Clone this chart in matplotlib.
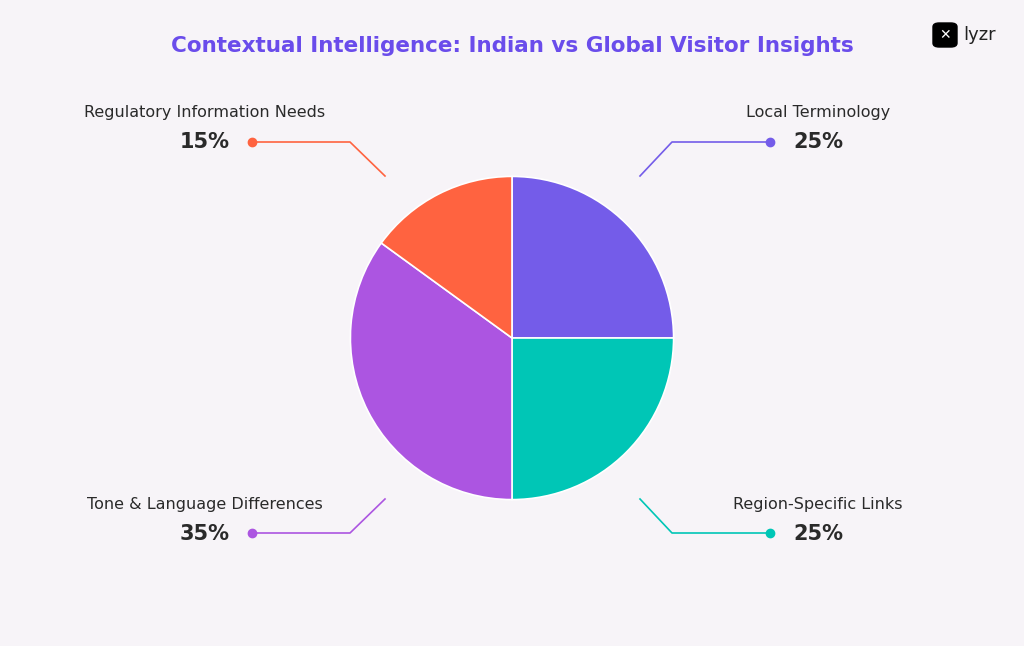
import matplotlib.pyplot as plt
from matplotlib.lines import Line2D
from matplotlib.patches import FancyBboxPatch

labels = ["Local Terminology", "Region-Specific Links", "Tone & Language Differences", "Regulatory Information Needs"]
values = [25, 25, 35, 15]
colors = ["#745CE9", "#00C6B6", "#AC55E1", "#FF6340"]

W, H = 1024, 646
bg = "#F7F4F8"
fig = plt.figure(figsize=(W / 100, H / 100), dpi=100, facecolor=bg)


def px(x, y):
    return x / W, 1 - y / H


# pie centred at (512, 338), radius 202 px
cx, cy, r = 512, 338, 202
ax = fig.add_axes([(cx - r) / W, 1 - (cy + r) / H, 2 * r / W, 2 * r / H])
ax.pie(values, colors=colors, startangle=90, counterclock=False,
       wedgeprops=dict(edgecolor="white", linewidth=1.2))
ax.set_aspect("equal")
ax.axis("off")

fig.text(*px(512, 46), "Contextual Intelligence: Indian vs Global Visitor Insights",
         ha="center", va="center", fontsize=15.5, fontweight="bold", color="#6A4CEB",
         family="DejaVu Sans")

# leader lines: (wedge point, elbow, dot), label centre
leaders = [
    ((640, 176), (672, 142), (770, 142), 818),
    ((640, 499), (672, 533), (770, 533), 818),
    ((385, 499), (350, 533), (252, 533), 205),
    ((385, 176), (350, 142), (252, 142), 205),
]
label_y = {0: 113, 1: 505, 2: 505, 3: 113}
for i, (a, b, c, lx) in enumerate(leaders):
    xs = [px(*p)[0] for p in (a, b, c)]
    ys = [px(*p)[1] for p in (a, b, c)]
    fig.add_artist(Line2D(xs, ys, color=colors[i], lw=1.2))
    fig.add_artist(Line2D([xs[2]], [ys[2]], marker="o", ms=6, color=colors[i]))
    ty = label_y[i]
    fig.text(*px(lx, ty), labels[i], ha="center", va="center", fontsize=11.5, color="#2A2A2A")
    fig.text(*px(lx, ty + 29), f"{values[i]}%", ha="center", va="center",
             fontsize=15, fontweight="bold", color="#2A2A2A")

# logo
x0, y0 = px(933, 47)
fig.add_artist(FancyBboxPatch((x0, y0), 24 / W, 24 / H, boxstyle="round,pad=0,rounding_size=0.006",
                              transform=fig.transFigure, color="black"))
fig.text(*px(945, 35), "✕", ha="center", va="center", fontsize=10, color="white")
fig.text(*px(963, 35), "lyzr", ha="left", va="center", fontsize=13, color="#222222")

fig.savefig("out.png", dpi=100, facecolor=bg)
